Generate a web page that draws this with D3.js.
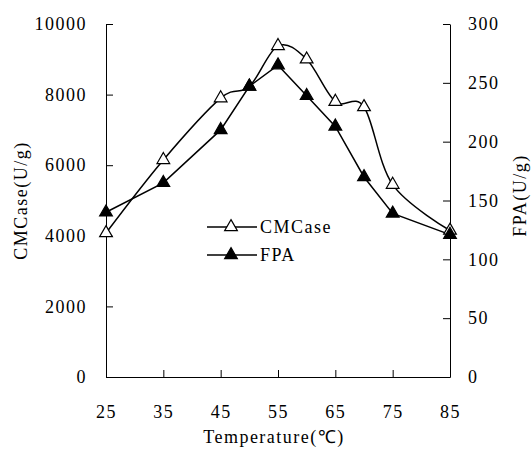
<!DOCTYPE html>
<html>
<head>
<meta charset="utf-8">
<script src="https://cdn.jsdelivr.net/npm/d3@7"></script>
<style>
  body { margin: 0; background: #fff; }
  text { font-family: "Liberation Serif", "Times New Roman", serif; }
</style>
</head>
<body>
<div id="wrapper"></div>
<script>
// data
const temperatures = [25, 35, 45, 50, 55, 60, 65, 70, 75, 85];
const cmcaseValues = [4080, 6150, 7900, 8230, 9380, 9000, 7800, 7650, 5450, 4150];
const fpaValues = [140, 165, 210, 247, 265, 239, 213, 170, 139, 121];
const xTicks = [25, 35, 45, 55, 65, 75, 85];
const leftTicks = [0, 2000, 4000, 6000, 8000, 10000];
const rightTicks = [0, 50, 100, 150, 200, 250, 300];

const dimensions = {
  width: 532,
  height: 449,
  left: 106,
  right: 450,
  top: 24,
  bottom: 377
};

const svg = d3.select("#wrapper")
  .append("svg")
    .attr("width", dimensions.width)
    .attr("height", dimensions.height);

// scales
const xScale = d3.scaleLinear()
  .domain([25, 85])
  .range([dimensions.left, dimensions.right]);

const yLeft = d3.scaleLinear()
  .domain([0, 10000])
  .range([dimensions.bottom, dimensions.top]);

const yRight = d3.scaleLinear()
  .domain([0, 300])
  .range([dimensions.bottom, dimensions.top]);

const fontSize = "18px";
const spacing = "1.5px";

function styleAxis(g) {
  g.selectAll("path, line").attr("stroke", "#000").attr("stroke-width", 1);
  g.selectAll("text")
    .attr("fill", "#000")
    .style("font-size", fontSize)
    .style("letter-spacing", spacing);
}

// axes
svg.append("g")
  .attr("transform", `translate(0, ${dimensions.bottom})`)
  .call(d3.axisBottom(xScale).tickValues(xTicks).tickFormat(d3.format("d"))
    .tickSize(-7).tickSizeOuter(0).tickPadding(28))
  .call(styleAxis);

svg.append("g")
  .attr("transform", `translate(${dimensions.left}, 0)`)
  .call(d3.axisLeft(yLeft).tickValues(leftTicks).tickFormat(d3.format("d"))
    .tickSize(-7).tickSizeOuter(0).tickPadding(19))
  .call(styleAxis);

svg.append("g")
  .attr("transform", `translate(${dimensions.right}, 0)`)
  .call(d3.axisRight(yRight).tickValues(rightTicks).tickFormat(d3.format("d"))
    .tickSize(-7).tickSizeOuter(0).tickPadding(18))
  .call(styleAxis);

// axis titles
svg.append("text")
  .attr("x", (dimensions.left + dimensions.right) / 2 - 4)
  .attr("y", 443)
  .attr("text-anchor", "middle")
  .style("font-size", fontSize)
  .style("letter-spacing", spacing)
  .text("Temperature(℃)");

svg.append("text")
  .attr("transform", `translate(27, ${(dimensions.top + dimensions.bottom) / 2}) rotate(-90)`)
  .attr("text-anchor", "middle")
  .style("font-size", fontSize)
  .style("letter-spacing", spacing)
  .text("CMCase(U/g)");

svg.append("text")
  .attr("transform", `translate(526, ${(dimensions.top + dimensions.bottom) / 2 - 5}) rotate(-90)`)
  .attr("text-anchor", "middle")
  .style("font-size", fontSize)
  .style("letter-spacing", spacing)
  .text("FPA(U/g)");

// lines
const cmLine = d3.line()
  .x((d, i) => xScale(temperatures[i]))
  .y(d => yLeft(d))
  .curve(d3.curveCardinal.tension(0));

const fpaLine = d3.line()
  .x((d, i) => xScale(temperatures[i]))
  .y(d => yRight(d));

svg.append("path")
  .attr("d", cmLine(cmcaseValues))
  .attr("fill", "none")
  .attr("stroke", "#000")
  .attr("stroke-width", 1.5);

svg.append("path")
  .attr("d", fpaLine(fpaValues))
  .attr("fill", "none")
  .attr("stroke", "#000")
  .attr("stroke-width", 1.5);

const triangle = d3.symbol().type(d3.symbolTriangle).size(70);

svg.append("g")
  .selectAll("path")
  .data(cmcaseValues)
  .join("path")
    .attr("transform", (d, i) => `translate(${xScale(temperatures[i])}, ${yLeft(d)})`)
    .attr("d", triangle)
    .attr("fill", "#fff")
    .attr("stroke", "#000")
    .attr("stroke-width", 1.2);

svg.append("g")
  .selectAll("path")
  .data(fpaValues)
  .join("path")
    .attr("transform", (d, i) => `translate(${xScale(temperatures[i])}, ${yRight(d)})`)
    .attr("d", triangle)
    .attr("fill", "#000")
    .attr("stroke", "#000")
    .attr("stroke-width", 1.2);

// legend
const legend = svg.append("g");
const legendItems = [
  { name: "CMCase", fill: "#fff", y: 227 },
  { name: "FPA", fill: "#000", y: 255 }
];

legendItems.forEach(item => {
  legend.append("line")
    .attr("x1", 207).attr("x2", 257)
    .attr("y1", item.y).attr("y2", item.y)
    .attr("stroke", "#000")
    .attr("stroke-width", 1.5);

  legend.append("path")
    .attr("transform", `translate(231, ${item.y})`)
    .attr("d", triangle)
    .attr("fill", item.fill)
    .attr("stroke", "#000")
    .attr("stroke-width", 1.2);

  legend.append("text")
    .attr("x", 260)
    .attr("y", item.y + 6)
    .style("font-size", fontSize)
    .style("letter-spacing", spacing)
    .text(item.name);
});
</script>
</body>
</html>
